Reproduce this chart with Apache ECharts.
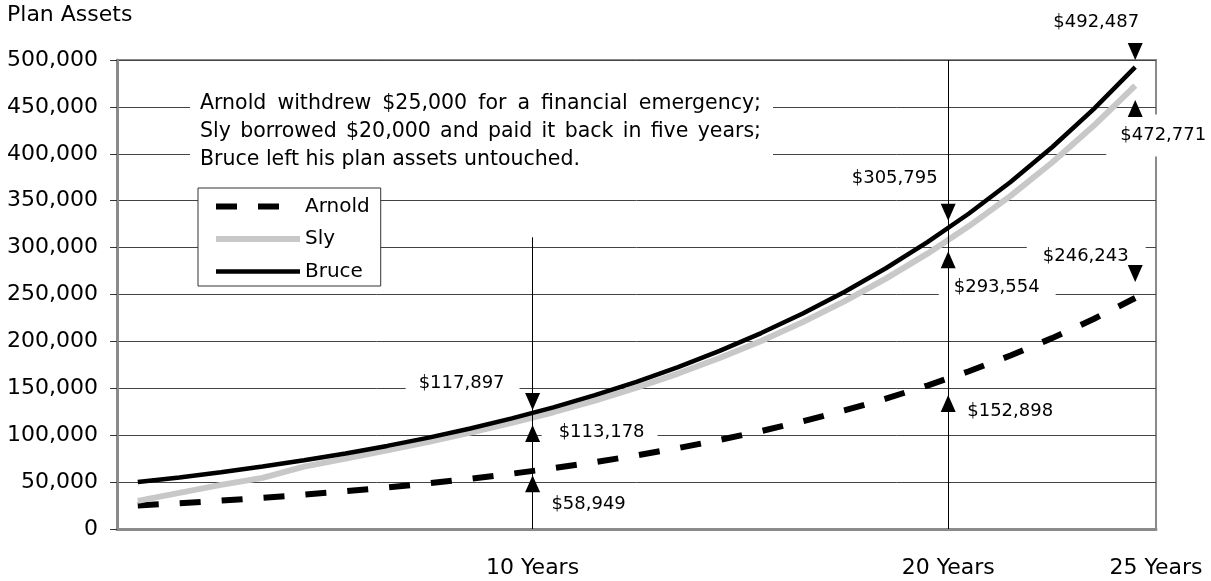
<!DOCTYPE html>
<html>
<head>
<meta charset="utf-8">
<script src="https://cdn.jsdelivr.net/npm/echarts@6/dist/echarts.min.js"></script>
<style>
html,body{margin:0;padding:0;background:#fff;}
#chart{width:1211px;height:581px;}
</style>
</head>
<body>
<div id="chart"></div>
<script>
// ---------------- data ----------------
const years = [1,2,3,4,5,6,7,8,9,10,11,12,13,14,15,16,17,18,19,20,21,22,23,24,25];
const arnold = [25000,27500,30250,33275,36603,40263,44289,48718,53590,58949,64844,71328,78461,86307,94937,104431,114874,126362,138998,152898,168188,185006,203507,223858,246243];
const sly = [30000,38500,47000,54500,66500,75000,84000,93000,102900,113178,124500,136950,150644,165709,182280,200508,220559,242615,266876,293554,322909,355212,390733,429806,472771];
const bruce = [50000,55000,60500,66550,73205,80526,88578,97436,107179,117897,129687,142656,156921,172614,189875,208862,229749,252724,277996,305795,336375,370012,407014,447715,492487];
const seriesNames = ['Arnold', 'Sly', 'Bruce'];
const xLabelYears = [10, 20, 25];
const markYears = [10, 20, 25];
const arnoldMarks = [58949, 152898, 246243];
const slyMarks = [113178, 293554, 472771];
const bruceMarks = [117897, 305795, 492487];
const yAxisTitle = 'Plan Assets';
const noteLines = [
  'Arnold withdrew $25,000 for a financial emergency;',
  'Sly borrowed $20,000 and paid it back in five years;',
  'Bruce left his plan assets untouched.'
];

// ---------------- layout / style ----------------
const FONT = '"DejaVu Sans", Verdana, sans-serif';
const lineStyles = {
  Arnold: {color: '#000', width: 6, type: [21, 21]},
  Sly:    {color: '#c8c8c8', width: 6, type: 'solid'},
  Bruce:  {color: '#000', width: 4.5, type: 'solid'}
};
const markLayout = {
  Bruce:  [{dir: 'down', tri: -17,   lab: [-70, -35], pad: [6, 15, 6, 13]},
           {dir: 'down', tri: -30,   lab: [-53, -64], pad: [4, 17, 16, 16]},
           {dir: 'down', tri: -15.5, lab: [-39, -45], pad: [3, 6, 3, 6]}],
  Sly:    [{dir: 'up',   tri: 10.7,  lab: [67, 9],    pad: [5, 13, 5, 17]},
           {dir: 'up',   tri: 6,     lab: [49, 34],   pad: [4, 16, 5, 15]},
           {dir: 'up',   tri: 23,    lab: [25, 50],   pad: [6, 8, 18, 14]}],
  Arnold: [{dir: 'up',   tri: 10,    lab: [56, 31],   pad: [3, 8, 3, 8]},
           {dir: 'up',   tri: 18,    lab: [62, 26],   pad: [3, 8, 3, 8]},
           {dir: 'down', tri: -24.5, lab: [-49, -42], pad: [6, 17, 3, 16]}]
};
const vlineTops = [311000, 500000]; // top end of the 10- and 20-year guide lines (value units)

// x position: each year occupies one band; points sit at band centres
const xOf = i => i + 0.5;
const lastX = xOf(years.length - 1);
const markX = y => (y < years[years.length - 1] ? y : lastX);

const valuesByName = {Arnold: arnold, Sly: sly, Bruce: bruce};
const marksByName = {Arnold: arnoldMarks, Sly: slyMarks, Bruce: bruceMarks};

const fmtMoney = v => '$' + v.toLocaleString('en-US');

const labelPoints = [];
const trianglePoints = [];
seriesNames.forEach(name => {
  marksByName[name].forEach((v, k) => {
    const L = markLayout[name][k];
    const coord = [markX(markYears[k]), v];
    trianglePoints.push({
      coord: coord,
      symbol: 'triangle',
      symbolSize: [15, 17],
      symbolRotate: L.dir === 'down' ? 180 : 0,
      symbolOffset: [0, L.tri],
      itemStyle: {color: '#000'},
      label: {show: false}
    });
    labelPoints.push({
      coord: coord,
      symbol: 'circle',
      symbolSize: 0.01,
      itemStyle: {color: 'rgba(0,0,0,0)'},
      label: {
        show: true, position: 'inside', offset: L.lab,
        formatter: fmtMoney(v),
        color: '#000', fontSize: 18, fontFamily: FONT,
        backgroundColor: '#fff', padding: L.pad
      }
    });
  });
});

const lineSeries = seriesNames.map(name => ({
  name: name,
  type: 'line',
  data: valuesByName[name].map((v, i) => [xOf(i), v]),
  symbol: 'none',
  silent: true,
  z: 2,
  lineStyle: lineStyles[name],
  itemStyle: {color: lineStyles[name].color}
}));

// value labels (white boxes) sit under the curves but over the grid lines
const labelSeries = {
  name: 'valueLabels',
  type: 'line',
  data: [],
  silent: true,
  markPoint: {
    z: 1,
    silent: true,
    animation: false,
    data: labelPoints
  }
};

// pointer triangles and the 10/20-year guide lines sit on top
const pointerSeries = {
  name: 'pointers',
  type: 'line',
  data: [],
  silent: true,
  markPoint: {
    z: 6,
    silent: true,
    animation: false,
    data: trianglePoints
  },
  markLine: {
    z: 5,
    silent: true,
    animation: false,
    symbol: ['none', 'none'],
    label: {show: false},
    lineStyle: {color: '#000', width: 1, type: 'solid'},
    emphasis: {disabled: true},
    data: [
      [{coord: [markYears[0], 0]}, {coord: [markYears[0], vlineTops[0]]}],
      [{coord: [markYears[1], 0]}, {coord: [markYears[1], vlineTops[1]]}]
    ]
  }
};

// justified annotation text, laid out word by word
const NOTE_FONT_SIZE = 20.5;
const noteFont = NOTE_FONT_SIZE + 'px ' + FONT;
const ctx = document.createElement('canvas').getContext('2d');
ctx.font = noteFont;
const noteLeft = 200, noteRight = 761, noteY0 = 104, notePitch = 28;
const graphics = [{
  type: 'rect', z: 1, silent: true,
  shape: {x: 190, y: 88, width: 583, height: 84},
  style: {fill: '#fff'}
}];
noteLines.forEach((line, li) => {
  const y = noteY0 + li * notePitch;
  const justify = li < noteLines.length - 1;
  if (!justify) {
    graphics.push({type: 'text', z: 1, silent: true, x: noteLeft, y: y,
      style: {text: line, font: noteFont, fill: '#000', verticalAlign: 'middle', align: 'left'}});
    return;
  }
  const words = line.split(' ');
  const widths = words.map(w => ctx.measureText(w).width);
  const total = widths.reduce((a, b) => a + b, 0);
  const gap = (noteRight - noteLeft - total) / (words.length - 1);
  let x = noteLeft;
  words.forEach((w, wi) => {
    graphics.push({type: 'text', z: 1, silent: true, x: x, y: y,
      style: {text: w, font: noteFont, fill: '#000', verticalAlign: 'middle', align: 'left'}});
    x += widths[wi] + gap;
  });
});

const chart = echarts.init(document.getElementById('chart'), null, {renderer: 'canvas'});
chart.setOption({
  animation: false,
  backgroundColor: '#fff',
  title: {
    text: yAxisTitle, left: 7, top: 4, padding: 0,
    textStyle: {fontSize: 22, fontWeight: 'normal', fontFamily: FONT, color: '#000'}
  },
  grid: {
    left: 117, right: 55, top: 60, bottom: 52,
    show: true, borderColor: '#8a8a8a', borderWidth: 2, backgroundColor: 'transparent'
  },
  legend: {
    data: seriesNames,
    orient: 'vertical',
    left: 198, top: 188,
    padding: [8.5, 11, 4.5, 15],
    itemGap: 12.5,
    itemWidth: 84,
    itemHeight: 14,
    selectedMode: false,
    backgroundColor: '#fff',
    borderColor: '#333',
    borderWidth: 1,
    borderRadius: 0,
    itemStyle: {color: 'rgba(0,0,0,0)', borderColor: 'rgba(0,0,0,0)', borderWidth: 0},
    lineStyle: {width: 'inherit', type: 'inherit', color: 'inherit'},
    textStyle: {fontSize: 20, fontFamily: FONT, color: '#000'}
  },
  xAxis: {
    type: 'value', min: 0, max: 25, interval: 5,
    axisLine: {show: true, lineStyle: {color: '#8a8a8a', width: 3}},
    axisTick: {show: false},
    splitLine: {show: false},
    axisLabel: {
      fontSize: 22, fontFamily: FONT, color: '#000', margin: 28,
      formatter: v => (xLabelYears.includes(v) ? v + ' Years' : '')
    }
  },
  yAxis: {
    type: 'value', min: 0, max: 500000, interval: 50000,
    axisLine: {show: true, lineStyle: {color: '#8a8a8a', width: 3}},
    axisTick: {show: true, length: 7, lineStyle: {color: '#333'}},
    splitLine: {show: true, lineStyle: {color: '#444', width: 1}},
    axisLabel: {
      fontSize: 22, fontFamily: FONT, color: '#000', margin: 19,
      formatter: v => v.toLocaleString('en-US')
    }
  },
  graphic: graphics,
  series: [...lineSeries, labelSeries, pointerSeries]
});
</script>
</body>
</html>
